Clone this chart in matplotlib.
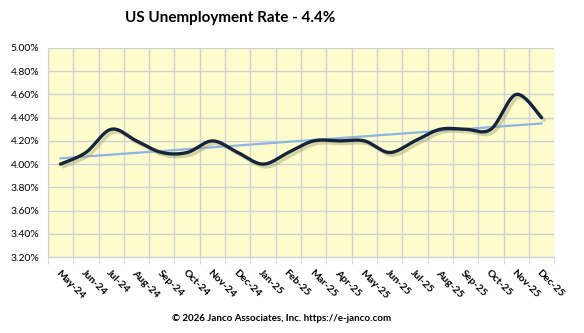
import numpy as np
import matplotlib
matplotlib.use("Agg")
import matplotlib.pyplot as plt
import matplotlib.patheffects as pe
from matplotlib.ticker import FuncFormatter

months = ["May-24", "Jun-24", "Jul-24", "Aug-24", "Sep-24", "Oct-24", "Nov-24",
          "Dec-24", "Jan-25", "Feb-25", "Mar-25", "Apr-25", "May-25", "Jun-25",
          "Jul-25", "Aug-25", "Sep-25", "Oct-25", "Nov-25", "Dec-25"]
rate = [4.0, 4.1, 4.3, 4.2, 4.1, 4.1, 4.2, 4.1, 4.0, 4.1,
        4.2, 4.2, 4.2, 4.1, 4.2, 4.3, 4.3, 4.3, 4.6, 4.4]
y_ticks = [3.2, 3.4, 3.6, 3.8, 4.0, 4.2, 4.4, 4.6, 4.8, 5.0]


def smooth(xs, ys, n=30):
    # catmull-rom style smoothing, like excel's smoothed line
    xs = np.asarray(xs, float)
    ys = np.asarray(ys, float)
    px = np.concatenate([[xs[0]], xs, [xs[-1]]])
    py = np.concatenate([[ys[0]], ys, [ys[-1]]])
    out_x, out_y = [], []
    t = np.linspace(0, 1, n)
    for i in range(1, len(px) - 2):
        x0, x1, x2, x3 = px[i - 1:i + 3]
        y0, y1, y2, y3 = py[i - 1:i + 3]
        # bezier control points
        cx1, cy1 = x1 + (x2 - x0) / 6, y1 + (y2 - y0) / 6
        cx2, cy2 = x2 - (x3 - x1) / 6, y2 - (y3 - y1) / 6
        bx = (1 - t) ** 3 * x1 + 3 * (1 - t) ** 2 * t * cx1 + 3 * (1 - t) * t ** 2 * cx2 + t ** 3 * x2
        by = (1 - t) ** 3 * y1 + 3 * (1 - t) ** 2 * t * cy1 + 3 * (1 - t) * t ** 2 * cy2 + t ** 3 * y2
        out_x.extend(bx)
        out_y.extend(by)
    return np.array(out_x), np.array(out_y)


x = np.arange(len(months))
sx, sy = smooth(x, rate)
slope, icpt = np.polyfit(x, rate, 1)

fig = plt.figure(figsize=(5.84, 3.33), dpi=100)
ax = fig.add_axes([0.082, 0.228, 0.867, 0.628])
ax.set_facecolor("#fffdcc")

ax.plot(x, slope * x + icpt, color="#8db4e2", lw=1.6, zorder=3)
ax.plot(sx, sy, color="#14243a", lw=2.4, solid_capstyle="round", zorder=4,
        path_effects=[pe.SimpleLineShadow(offset=(2, -2), shadow_color="#a0a070", alpha=0.45),
                      pe.Normal()])

ax.set_xlim(-0.5, len(months) - 0.5)
ax.set_ylim(3.2, 5.0)
ax.set_yticks(y_ticks)
ax.yaxis.set_major_formatter(FuncFormatter(lambda v, p: f"{v:.2f}%"))
ax.set_xticks(x)
ax.set_xticklabels(months, rotation=-45, ha="left", va="top", rotation_mode="anchor",
                   fontsize=7.5, fontweight="bold", family="Lato")
ax.set_xticks(np.arange(-0.5, len(months)), minor=True)
ax.tick_params(axis="x", which="major", length=0, pad=8)
ax.tick_params(axis="x", which="minor", length=5, color="#d0d0d8")
ax.tick_params(axis="y", length=0, pad=6, labelsize=7.5)
for lab in ax.get_yticklabels():
    lab.set_family("Lato")

ax.grid(True, axis="y", color="#d0d0d8", lw=1)
ax.grid(True, axis="x", which="minor", color="#d0d0d8", lw=1)
ax.set_axisbelow(True)
for s in ["top", "right"]:
    ax.spines[s].set_visible(False)
ax.spines["left"].set_color("#d0d0d8")
ax.spines["bottom"].set_color("#d0d0d8")

fig.text(0.395, 0.945, "US Unemployment Rate - 4.4%", ha="center", va="center",
         fontsize=11, fontweight="bold", family="Lato")
fig.text(0.482, 0.045, "\u00a9 2026 Janco Associates, Inc. https://e-janco.com", ha="center",
         va="center", fontsize=7, fontweight="bold", family="Lato")

fig.savefig("out.png", dpi=100)
